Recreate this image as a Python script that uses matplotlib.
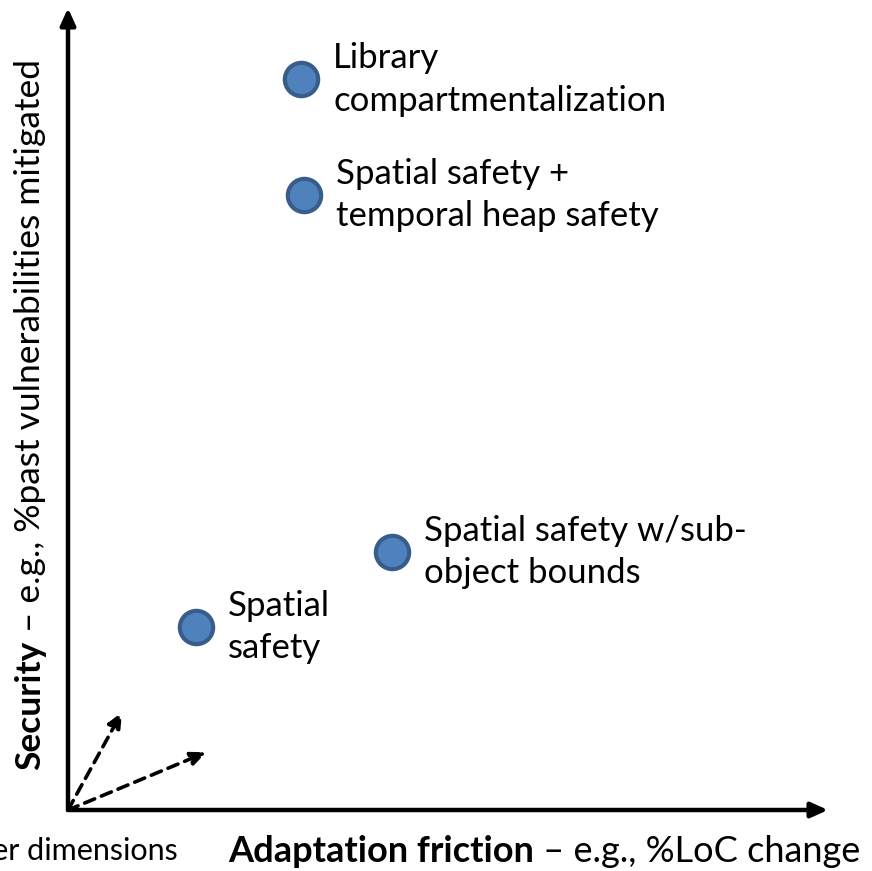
import matplotlib
matplotlib.use("Agg")
import matplotlib.pyplot as plt

plt.rcParams["font.family"] = ["Lato", "DejaVu Sans"]

# approaches: (friction, security) in axis units 0..100
names = ["Library\ncompartmentalization",
         "Spatial safety +\ntemporal heap safety",
         "Spatial safety w/sub-\nobject bounds",
         "Spatial\nsafety"]
friction = [30.7, 31.1, 42.6, 16.8]
security = [91.1, 76.7, 32.2, 22.8]

# the two dashed "other dimensions" arrows
other_x = [7.1, 18.2]
other_y = [12.2, 7.2]

fig = plt.figure(figsize=(8.72, 8.71), dpi=100)
ax = fig.add_axes([68 / 872, 61 / 871, 760 / 872, 802 / 871])
ax.set_xlim(0, 100)
ax.set_ylim(0, 100)
ax.axis("off")

# main axes with arrow heads
arrow_kw = dict(arrowstyle="-|>,head_length=1.0,head_width=0.45", lw=3.2, color="black",
                shrinkA=0, shrinkB=0)
ax.annotate("", xy=(100, 0), xytext=(0, 0), arrowprops=arrow_kw, annotation_clip=False)
ax.annotate("", xy=(0, 100), xytext=(0, 0), arrowprops=arrow_kw, annotation_clip=False)

for ox, oy in zip(other_x, other_y):
    ax.annotate("", xy=(ox, oy), xytext=(0, 0),
                arrowprops=dict(arrowstyle="-|>,head_length=0.9,head_width=0.4", lw=2.6,
                                color="black", linestyle=(0, (3, 2)), shrinkA=0, shrinkB=0))

ax.plot(friction, security, "o", markersize=24, markerfacecolor="#4F81BD",
        markeredgecolor="#385D8A", markeredgewidth=3, clip_on=False, zorder=3)

for name, x, y in zip(names, friction, security):
    ax.annotate(name, xy=(x, y), xytext=(23, 0), textcoords="offset points",
                fontsize=25, va="center", ha="left", linespacing=1.4)

# x axis label: bold + regular part
xl = fig.text(228 / 872, 1 - 851 / 871, "Adaptation friction", fontsize=26,
              fontweight="bold", va="center", ha="left")
ax.annotate(" \u2013 e.g., %LoC change", xy=(1, 0), xycoords=xl, fontsize=26,
            va="bottom", ha="left", annotation_clip=False)

# y axis label: bold + regular part, rotated
yl = fig.text(30 / 872, 1 - 770 / 871, "Security", fontsize=25.5, fontweight="bold",
              rotation=90, va="bottom", ha="center")
ax.annotate(" \u2013 e.g., %past vulnerabilities mitigated", xy=(0.5, 1), xycoords=yl,
            fontsize=25.5, rotation=90, va="bottom", ha="center", annotation_clip=False)

# clipped at the left edge, as in the original slide
fig.text(178 / 872, 1 - 851 / 871, "Other dimensions", fontsize=22, va="center", ha="right")

fig.savefig("out.png", dpi=100)
